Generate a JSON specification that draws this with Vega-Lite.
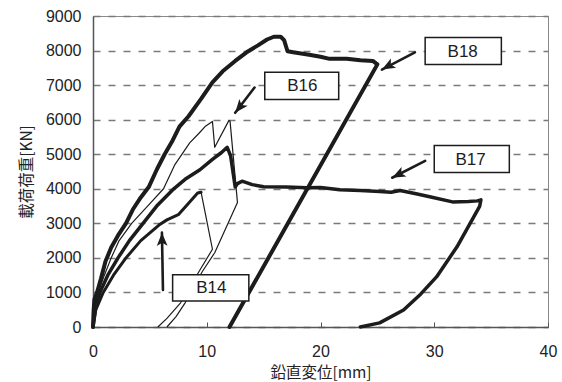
{
  "$schema": "https://vega.github.io/schema/vega-lite/v6.json",
  "width": 455,
  "height": 311,
  "autosize": "none",
  "padding": {"left": 93, "top": 16, "right": 14, "bottom": 55},
  "background": "white",
  "config": {
    "font": "Liberation Sans",
    "view": {"stroke": "#8a8a8a", "strokeWidth": 1},
    "axis": {"labelOverlap": false, "labelFlush": false, "labelBound": false}
  },
  "datasets": {
    "curves": [
      {"s": "B18", "p": "load", "i": 1, "x": 0, "y": 0},
      {"s": "B18", "p": "load", "i": 2, "x": 0.05, "y": 450},
      {"s": "B18", "p": "load", "i": 3, "x": 0.12, "y": 800},
      {"s": "B18", "p": "load", "i": 4, "x": 0.35, "y": 1000},
      {"s": "B18", "p": "load", "i": 5, "x": 0.7, "y": 1400},
      {"s": "B18", "p": "load", "i": 6, "x": 1.1, "y": 1900},
      {"s": "B18", "p": "load", "i": 7, "x": 1.6, "y": 2300},
      {"s": "B18", "p": "load", "i": 8, "x": 2.2, "y": 2650},
      {"s": "B18", "p": "load", "i": 9, "x": 2.9, "y": 3000},
      {"s": "B18", "p": "load", "i": 10, "x": 3.5, "y": 3400},
      {"s": "B18", "p": "load", "i": 11, "x": 4.2, "y": 3750},
      {"s": "B18", "p": "load", "i": 12, "x": 4.9, "y": 4050},
      {"s": "B18", "p": "load", "i": 13, "x": 5.6, "y": 4550},
      {"s": "B18", "p": "load", "i": 14, "x": 6.3, "y": 5000},
      {"s": "B18", "p": "load", "i": 15, "x": 7.0, "y": 5400},
      {"s": "B18", "p": "load", "i": 16, "x": 7.6, "y": 5800},
      {"s": "B18", "p": "load", "i": 17, "x": 8.4, "y": 6100},
      {"s": "B18", "p": "load", "i": 18, "x": 9.5, "y": 6600},
      {"s": "B18", "p": "load", "i": 19, "x": 10.5, "y": 7080},
      {"s": "B18", "p": "load", "i": 20, "x": 11.4, "y": 7400},
      {"s": "B18", "p": "load", "i": 21, "x": 12.5, "y": 7700},
      {"s": "B18", "p": "load", "i": 22, "x": 13.5, "y": 7950},
      {"s": "B18", "p": "load", "i": 23, "x": 14.5, "y": 8150},
      {"s": "B18", "p": "load", "i": 24, "x": 15.3, "y": 8320},
      {"s": "B18", "p": "load", "i": 25, "x": 15.9, "y": 8400},
      {"s": "B18", "p": "load", "i": 26, "x": 16.5, "y": 8400},
      {"s": "B18", "p": "load", "i": 27, "x": 16.8, "y": 8300},
      {"s": "B18", "p": "load", "i": 28, "x": 17.1, "y": 7980},
      {"s": "B18", "p": "load", "i": 29, "x": 17.6, "y": 7950},
      {"s": "B18", "p": "load", "i": 30, "x": 19.0, "y": 7880},
      {"s": "B18", "p": "load", "i": 31, "x": 20.0, "y": 7820},
      {"s": "B18", "p": "load", "i": 32, "x": 20.8, "y": 7760},
      {"s": "B18", "p": "load", "i": 33, "x": 22.3, "y": 7760},
      {"s": "B18", "p": "load", "i": 34, "x": 23.5, "y": 7720},
      {"s": "B18", "p": "load", "i": 35, "x": 24.6, "y": 7700},
      {"s": "B18", "p": "load", "i": 36, "x": 25.0, "y": 7600},
      {"s": "B18", "p": "load", "i": 37, "x": 12.0, "y": 0},

      {"s": "B16", "p": "load", "i": 1, "x": 0, "y": 0},
      {"s": "B16", "p": "load", "i": 2, "x": 0.15, "y": 600},
      {"s": "B16", "p": "load", "i": 3, "x": 0.5, "y": 1050},
      {"s": "B16", "p": "load", "i": 4, "x": 1.0, "y": 1500},
      {"s": "B16", "p": "load", "i": 5, "x": 1.6, "y": 2000},
      {"s": "B16", "p": "load", "i": 6, "x": 2.3, "y": 2500},
      {"s": "B16", "p": "load", "i": 7, "x": 3.4, "y": 3000},
      {"s": "B16", "p": "load", "i": 8, "x": 4.8, "y": 3500},
      {"s": "B16", "p": "load", "i": 9, "x": 6.2, "y": 4000},
      {"s": "B16", "p": "load", "i": 10, "x": 7.2, "y": 4700},
      {"s": "B16", "p": "load", "i": 11, "x": 8.5, "y": 5330},
      {"s": "B16", "p": "load", "i": 12, "x": 9.3, "y": 5600},
      {"s": "B16", "p": "load", "i": 13, "x": 9.85, "y": 5800},
      {"s": "B16", "p": "load", "i": 14, "x": 10.5, "y": 5950},
      {"s": "B16", "p": "load", "i": 15, "x": 10.7, "y": 5200},
      {"s": "B16", "p": "load", "i": 16, "x": 11.95, "y": 5980},
      {"s": "B16", "p": "load", "i": 17, "x": 12.05, "y": 5950},
      {"s": "B16", "p": "load", "i": 18, "x": 12.7, "y": 3600},
      {"s": "B16", "p": "load", "i": 19, "x": 10.7, "y": 2150},
      {"s": "B16", "p": "load", "i": 20, "x": 9.6, "y": 1600},
      {"s": "B16", "p": "load", "i": 21, "x": 8.1, "y": 700},
      {"s": "B16", "p": "load", "i": 22, "x": 7.3, "y": 300},
      {"s": "B16", "p": "load", "i": 23, "x": 6.5, "y": 0},

      {"s": "B17", "p": "load", "i": 1, "x": 0, "y": 0},
      {"s": "B17", "p": "load", "i": 2, "x": 0.2, "y": 500},
      {"s": "B17", "p": "load", "i": 3, "x": 0.6, "y": 1000},
      {"s": "B17", "p": "load", "i": 4, "x": 1.3, "y": 1500},
      {"s": "B17", "p": "load", "i": 5, "x": 2.2, "y": 2000},
      {"s": "B17", "p": "load", "i": 6, "x": 3.2, "y": 2500},
      {"s": "B17", "p": "load", "i": 7, "x": 4.4, "y": 3000},
      {"s": "B17", "p": "load", "i": 8, "x": 5.6, "y": 3500},
      {"s": "B17", "p": "load", "i": 9, "x": 7.1, "y": 4000},
      {"s": "B17", "p": "load", "i": 10, "x": 8.2, "y": 4300},
      {"s": "B17", "p": "load", "i": 11, "x": 9.4, "y": 4550},
      {"s": "B17", "p": "load", "i": 12, "x": 10.5, "y": 4850},
      {"s": "B17", "p": "load", "i": 13, "x": 11.3, "y": 5050},
      {"s": "B17", "p": "load", "i": 14, "x": 11.8, "y": 5200},
      {"s": "B17", "p": "load", "i": 15, "x": 12.1, "y": 4950},
      {"s": "B17", "p": "load", "i": 16, "x": 12.5, "y": 4050},
      {"s": "B17", "p": "load", "i": 17, "x": 12.7, "y": 4150},
      {"s": "B17", "p": "load", "i": 18, "x": 13.1, "y": 4220},
      {"s": "B17", "p": "load", "i": 19, "x": 14.0, "y": 4120},
      {"s": "B17", "p": "load", "i": 20, "x": 15.0, "y": 4060},
      {"s": "B17", "p": "load", "i": 21, "x": 17.0, "y": 4050},
      {"s": "B17", "p": "load", "i": 22, "x": 18.8, "y": 4030},
      {"s": "B17", "p": "load", "i": 23, "x": 20.0, "y": 4040},
      {"s": "B17", "p": "load", "i": 24, "x": 21.7, "y": 3970},
      {"s": "B17", "p": "load", "i": 25, "x": 23.5, "y": 3950},
      {"s": "B17", "p": "load", "i": 26, "x": 25.2, "y": 3920},
      {"s": "B17", "p": "load", "i": 27, "x": 26.2, "y": 3900},
      {"s": "B17", "p": "load", "i": 28, "x": 27.0, "y": 3950},
      {"s": "B17", "p": "load", "i": 29, "x": 28.5, "y": 3850},
      {"s": "B17", "p": "load", "i": 30, "x": 29.6, "y": 3770},
      {"s": "B17", "p": "load", "i": 31, "x": 31.6, "y": 3620},
      {"s": "B17", "p": "load", "i": 32, "x": 33.0, "y": 3630},
      {"s": "B17", "p": "load", "i": 33, "x": 33.8, "y": 3650},
      {"s": "B17", "p": "load", "i": 34, "x": 34.1, "y": 3680},
      {"s": "B17", "p": "load", "i": 35, "x": 34.0, "y": 3500},
      {"s": "B17", "p": "load", "i": 36, "x": 32.0, "y": 2320},
      {"s": "B17", "p": "load", "i": 37, "x": 30.2, "y": 1450},
      {"s": "B17", "p": "load", "i": 38, "x": 28.8, "y": 950},
      {"s": "B17", "p": "load", "i": 39, "x": 27.3, "y": 490},
      {"s": "B17", "p": "load", "i": 40, "x": 25.2, "y": 120},
      {"s": "B17", "p": "load", "i": 41, "x": 23.5, "y": 0},

      {"s": "B14", "p": "load", "i": 1, "x": 0, "y": 0},
      {"s": "B14", "p": "load", "i": 2, "x": 0.25, "y": 500},
      {"s": "B14", "p": "load", "i": 3, "x": 0.9, "y": 1000},
      {"s": "B14", "p": "load", "i": 4, "x": 1.8, "y": 1500},
      {"s": "B14", "p": "load", "i": 5, "x": 2.9, "y": 2000},
      {"s": "B14", "p": "load", "i": 6, "x": 4.2, "y": 2500},
      {"s": "B14", "p": "load", "i": 7, "x": 5.8, "y": 2950},
      {"s": "B14", "p": "load", "i": 8, "x": 6.5, "y": 3100},
      {"s": "B14", "p": "load", "i": 9, "x": 7.5, "y": 3250},
      {"s": "B14", "p": "load", "i": 10, "x": 8.5, "y": 3620},
      {"s": "B14", "p": "load", "i": 11, "x": 9.2, "y": 3880},
      {"s": "B14", "p": "load", "i": 12, "x": 9.5, "y": 3900},
      {"s": "B14", "p": "unload", "i": 13, "x": 9.5, "y": 3900},
      {"s": "B14", "p": "unload", "i": 14, "x": 10.5, "y": 2250},
      {"s": "B14", "p": "unload", "i": 15, "x": 9.4, "y": 1650},
      {"s": "B14", "p": "unload", "i": 16, "x": 7.7, "y": 700},
      {"s": "B14", "p": "unload", "i": 17, "x": 6.5, "y": 250},
      {"s": "B14", "p": "unload", "i": 18, "x": 5.7, "y": 0}
    ],
    "notes": [
      {"label": "B18", "tx": 32.5, "ty": 7950, "bx1": 29.2, "bx2": 35.9, "by1": 7600, "by2": 8380, "ax": 28.3, "ay": 7950, "hx": 25.4, "hy": 7450},
      {"label": "B16", "tx": 18.4, "ty": 6960, "bx1": 15.1, "bx2": 21.6, "by1": 6580, "by2": 7370, "ax": 14.2, "ay": 6930, "hx": 12.5, "hy": 6200},
      {"label": "B17", "tx": 33.2, "ty": 4840, "bx1": 30.0, "bx2": 36.6, "by1": 4470, "by2": 5250, "ax": 29.2, "ay": 4810, "hx": 26.3, "hy": 4320},
      {"label": "B14", "tx": 10.4, "ty": 1130, "bx1": 7.0, "bx2": 13.7, "by1": 750, "by2": 1510, "ax": 6.15, "ay": 1070, "hx": 6.06, "hy": 2730}
    ]
  },
  "encoding": {
    "x": {
      "field": "x", "type": "quantitative",
      "scale": {"domain": [0, 40], "nice": false, "zero": false},
      "axis": {
        "title": "鉛直変位[mm]", "titleFont": "Noto Sans CJK JP", "titleFontSize": 15.5, "titleFontWeight": "normal",
        "titleColor": "#222", "titlePadding": 6,
        "values": [0, 10, 20, 30, 40], "labelFontSize": 16, "labelColor": "#222", "labelPadding": 21,
        "labelOverlap": false, "labelFlush": false,
        "ticks": true, "tickSize": -5, "tickColor": "#555", "tickWidth": 1, "grid": false,
        "domainColor": "#555", "domainWidth": 1.5
      }
    },
    "y": {
      "field": "y", "type": "quantitative",
      "scale": {"domain": [0, 9000], "nice": false, "zero": false},
      "axis": {
        "title": "載荷荷重[KN]", "titleFont": "Noto Sans CJK JP", "titleFontSize": 15.5, "titleFontWeight": "normal",
        "titleColor": "#222", "titleX": -67, "titleY": 155.5, "titleAngle": -90, "titleAlign": "center", "titleBaseline": "middle",
        "values": [0, 1000, 2000, 3000, 4000, 5000, 6000, 7000, 8000, 9000], "format": "d", "tickCount": 10,
        "labelFontSize": 16, "labelColor": "#222", "labelPadding": 12, "ticks": false,
        "labelOverlap": false, "labelFlush": false,
        "grid": true, "gridColor": "#7a7a7a", "gridDash": [7, 8], "gridWidth": 1.3,
        "domainColor": "#555", "domainWidth": 1.5
      }
    },
    "order": {"field": "i", "type": "quantitative"}
  },
  "layer": [
    {
      "data": {"name": "curves"},
      "transform": [{"filter": "datum.s == 'B18'"}],
      "mark": {"type": "line", "color": "#1c1c1c", "strokeWidth": 4, "strokeJoin": "round", "strokeCap": "round"}
    },
    {
      "data": {"name": "curves"},
      "transform": [{"filter": "datum.s == 'B17'"}],
      "mark": {"type": "line", "color": "#1c1c1c", "strokeWidth": 3.5, "strokeJoin": "round", "strokeCap": "round"}
    },
    {
      "data": {"name": "curves"},
      "transform": [{"filter": "datum.s == 'B14' && datum.p == 'load'"}],
      "mark": {"type": "line", "color": "#1c1c1c", "strokeWidth": 3, "strokeJoin": "round", "strokeCap": "round"}
    },
    {
      "data": {"name": "curves"},
      "transform": [{"filter": "datum.s == 'B16' || (datum.s == 'B14' && datum.p == 'unload')"}],
      "mark": {"type": "line", "color": "#1c1c1c", "strokeWidth": 1.2, "strokeJoin": "round"},
      "encoding": {"detail": {"field": "s"}}
    },
    {
      "data": {"name": "notes"},
      "mark": {"type": "rect", "fill": "white", "stroke": "#1c1c1c", "strokeWidth": 1.5},
      "encoding": {
        "x": {"field": "bx1", "type": "quantitative"},
        "x2": {"field": "bx2"},
        "y": {"field": "by1", "type": "quantitative"},
        "y2": {"field": "by2"},
        "order": null
      }
    },
    {
      "data": {"name": "notes"},
      "mark": {"type": "text", "fontSize": 17, "color": "#1c1c1c", "align": "center", "baseline": "middle"},
      "encoding": {
        "x": {"field": "tx", "type": "quantitative"},
        "y": {"field": "ty", "type": "quantitative"},
        "text": {"field": "label"},
        "order": null
      }
    },
    {
      "data": {"name": "notes"},
      "mark": {"type": "rule", "color": "#1c1c1c", "strokeWidth": 2.6, "strokeCap": "round"},
      "encoding": {
        "x": {"field": "ax", "type": "quantitative"},
        "y": {"field": "ay", "type": "quantitative"},
        "x2": {"field": "hx"},
        "y2": {"field": "hy"},
        "order": null
      }
    },
    {
      "data": {"name": "notes"},
      "transform": [{"filter": "datum.label == 'B18'"}],
      "mark": {"type": "point", "shape": "M0,0L0.85,2.1L0,1.6L-0.85,2.1Z", "filled": true, "opacity": 1, "color": "#1c1c1c", "size": 160, "angle": 241},
      "encoding": {"x": {"field": "hx", "type": "quantitative"}, "y": {"field": "hy", "type": "quantitative"}, "order": null}
    },
    {
      "data": {"name": "notes"},
      "transform": [{"filter": "datum.label == 'B16'"}],
      "mark": {"type": "point", "shape": "M0,0L0.85,2.1L0,1.6L-0.85,2.1Z", "filled": true, "opacity": 1, "color": "#1c1c1c", "size": 160, "angle": 219},
      "encoding": {"x": {"field": "hx", "type": "quantitative"}, "y": {"field": "hy", "type": "quantitative"}, "order": null}
    },
    {
      "data": {"name": "notes"},
      "transform": [{"filter": "datum.label == 'B17'"}],
      "mark": {"type": "point", "shape": "M0,0L0.85,2.1L0,1.6L-0.85,2.1Z", "filled": true, "opacity": 1, "color": "#1c1c1c", "size": 160, "angle": 243},
      "encoding": {"x": {"field": "hx", "type": "quantitative"}, "y": {"field": "hy", "type": "quantitative"}, "order": null}
    },
    {
      "data": {"name": "notes"},
      "transform": [{"filter": "datum.label == 'B14'"}],
      "mark": {"type": "point", "shape": "M0,0L0.85,2.1L0,1.6L-0.85,2.1Z", "filled": true, "opacity": 1, "color": "#1c1c1c", "size": 160, "angle": 359},
      "encoding": {"x": {"field": "hx", "type": "quantitative"}, "y": {"field": "hy", "type": "quantitative"}, "order": null}
    }
  ]
}
